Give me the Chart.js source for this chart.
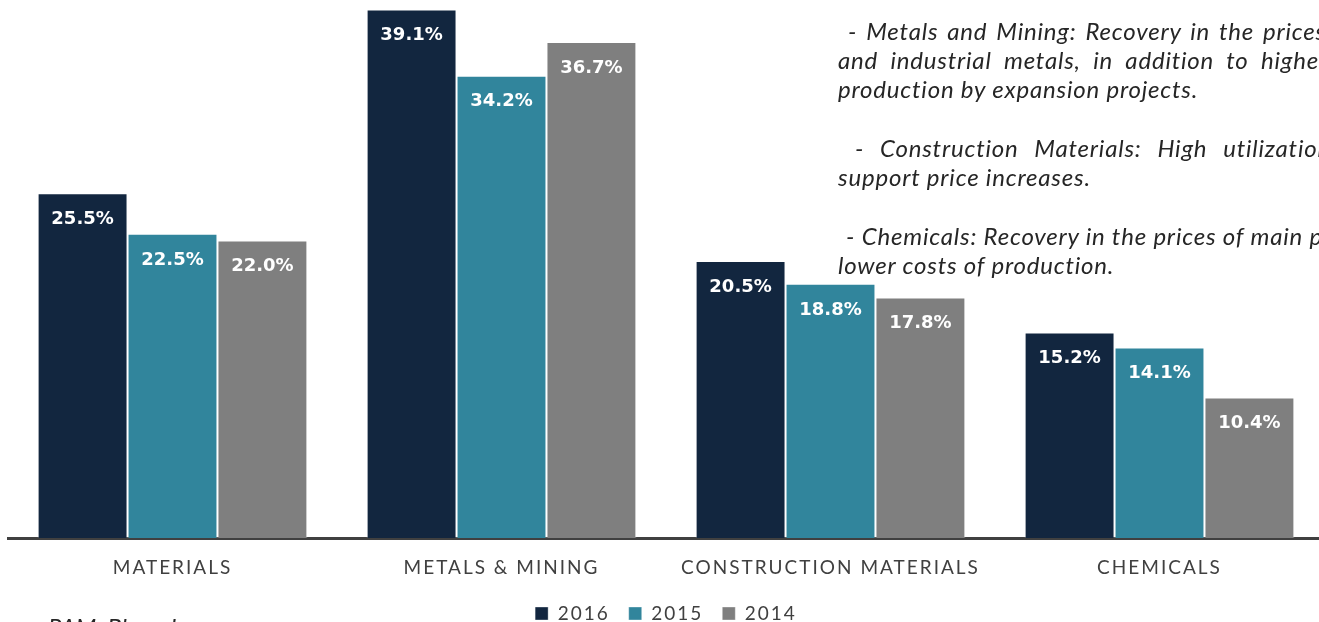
<!DOCTYPE html>
<html>
<head>
<meta charset="utf-8">
<script src="https://cdn.jsdelivr.net/npm/chart.js@4/dist/chart.umd.min.js"></script>
<style>
  html, body { margin: 0; padding: 0; background: #fff; overflow: hidden; width: 1319px; height: 622px; }
  #wrap { position: absolute; left: 0; top: 0; width: 1324px; height: 633px; }
  .note { position: absolute; left: 838px; width: 500px; font-family: Lato, sans-serif; font-style: italic;
          font-size: 24px; letter-spacing: 0.8px; color: #262626; white-space: nowrap; line-height: 29px; }
  .just { text-align: justify; text-align-last: justify; white-space: normal; }
  #src { position: absolute; left: 48px; top: 612px; font-family: Lato, sans-serif; font-style: italic;
         font-size: 24px; color: #262626; white-space: nowrap; }
</style>
</head>
<body>
<div id="wrap"><canvas id="chart"></canvas></div>

<div class="note just" style="top:16px; padding-left:10px; width:478px">- Metals and Mining: Recovery in the prices</div>
<div class="note just" style="top:45px; width:490px">and industrial metals, in addition to higher</div>
<div class="note" style="top:74px">production by expansion projects.</div>
<div class="note just" style="top:133px; padding-left:17px; width:476px">- Construction Materials: High utilization</div>
<div class="note" style="top:162px">support price increases.</div>
<div class="note" style="top:221px; padding-left:8px">- Chemicals: Recovery in the prices of main products and</div>
<div class="note" style="top:250px">lower costs of production.</div>
<div id="src">PAM, Bloomberg</div>

<script>
// chart data
var categories = ['MATERIALS', 'METALS & MINING', 'CONSTRUCTION MATERIALS', 'CHEMICALS'];
var years = ['2016', '2015', '2014'];
var values2016 = [25.5, 39.1, 20.5, 15.2];
var values2015 = [22.5, 34.2, 18.8, 14.1];
var values2014 = [22.0, 36.7, 17.8, 10.4];

var colors = ['#12263f', '#31859c', '#7f7f7f'];

// spaced-out lettering for axis + legend text
var spacing = {
	id: 'spacing',
	beforeLayout: function(chart) { chart.ctx.letterSpacing = '2px'; },
	beforeDraw: function(chart) { chart.ctx.letterSpacing = '2px'; }
};

// white % labels near the top inside each bar
var barLabels = {
	id: 'barLabels',
	afterDatasetsDraw: function(chart) {
		var ctx = chart.ctx;
		ctx.save();
		ctx.letterSpacing = '0px';
		ctx.font = 'bold 18px "DejaVu Sans"';
		ctx.fillStyle = '#ffffff';
		ctx.textAlign = 'center';
		ctx.textBaseline = 'middle';
		chart.data.datasets.forEach(function(ds, i) {
			chart.getDatasetMeta(i).data.forEach(function(bar, j) {
				ctx.fillText(ds.data[j].toFixed(1) + '%', bar.x, bar.y + 26);
			});
		});
		ctx.restore();
	}
};

var seriesList = [values2016, values2015, values2014];

new Chart(document.getElementById('chart'), {
	type: 'bar',
	data: {
		labels: categories,
		datasets: years.map(function(y, i) {
			return {
				label: y,
				data: seriesList[i],
				backgroundColor: colors[i],
				borderColor: 'rgba(255,255,255,0.35)',
				borderWidth: 1,
				categoryPercentage: 0.82,
				barPercentage: 1.0
			};
		})
	},
	options: {
		responsive: true,
		maintainAspectRatio: false,
		animation: false,
		layout: { padding: { left: 8, right: 0, top: 0, bottom: 0 } },
		scales: {
			x: {
				grid: { display: false, drawTicks: false },
				border: { color: '#404040', width: 3 },
				ticks: { color: '#404040', font: { family: 'Lato', size: 19 }, padding: 18 },
				afterFit: function(scale) { scale.height = 47; }
			},
			y: { display: false, min: 0, max: 39.8 }
		},
		plugins: {
			legend: {
				position: 'bottom',
				labels: {
					boxWidth: 13, boxHeight: 13, padding: 19,
					color: '#404040', font: { family: 'Lato', size: 19 }
				}
			},
			tooltip: { enabled: false }
		}
	},
	plugins: [spacing, barLabels]
});
</script>
</body>
</html>
